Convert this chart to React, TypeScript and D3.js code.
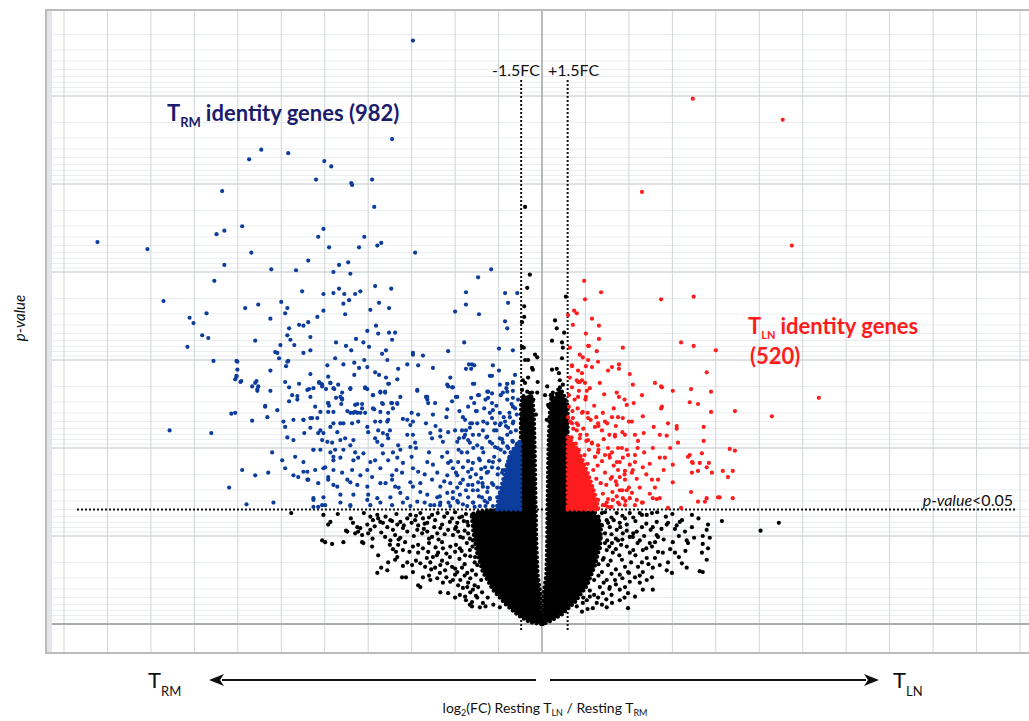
import React from "react";
import * as d3 from "d3";

// Each gene: [log2 fold change (T_LN / T_RM), -log10(p-value)]
type Pt = [number, number];

// Significant, higher in T_RM (blue)
const trmIdentityGenes: Pt[] = [
[-2.97,6.63],[-10.23,4.34],[-9.08,4.26],[-3.45,5.51],[-6.74,5.28],[-6.46,5.39],[-5.84,5.35],[-5.01,5.26],[-4.85,5.2],[-5.2,5.05],[-4.39,5.01],[-4.37,4.99],[-3.91,5.05],[-3.86,4.74],[-7.36,4.92],[-6.9,4.52],[-7.49,4.43],[-7.31,4.47],[-5.03,4.49],[-5.15,4.4],[-4.09,4.4],[-4.21,4.28],[-4.9,4.28],[-3.79,4.3],[-3.7,4.33],[-2.92,4.22],[-6.69,4.22],[-7.31,4.08],[-6.23,4.03],[-5.66,4.02],[-5.38,4.13],[-4.67,4.08],[-4.46,4.11],[-4.8,4.0],[-4.41,3.98],[-1.17,4.03],[-1.47,3.94],[-7.54,3.9],[-8.71,3.67],[-3.84,3.84],[-3.47,3.81],[-5.52,3.78],[-5.03,3.75],[-4.8,3.76],[-4.67,3.81],[-4.55,3.75],[-4.3,3.75],[-4.18,3.78],[-4.44,3.68],[-4.57,3.64],[-3.75,3.65],[-3.52,3.59],[-3.95,3.57],[-4.53,3.52],[-1.75,3.77],[-1.75,3.63],[-1.45,3.52],[-2.0,3.55],[-0.85,3.76],[-0.57,3.76],[-0.78,3.65],[-0.85,3.44],[-0.8,3.36],[-6.83,3.59],[-6.53,3.63],[-6.0,3.66],[-5.86,3.59],[-5.91,3.53],[-6.25,3.47],[-8.11,3.48],[-8.02,3.42],[-7.72,3.53],[-5.82,3.36],[-5.59,3.4],[-5.49,3.39],[-5.38,3.43],[-5.17,3.49],[-5.03,3.56],[-4.02,3.33],[-3.82,3.39],[-3.77,3.3],[-3.52,3.31],[-3.38,3.31],[-7.82,3.28],[-7.68,3.25],[-5.86,3.28],[-8.16,3.15],[-7.56,2.99],[-7.03,2.99],[-7.01,2.89],[-7.03,2.82],[-7.06,2.78],[-6.92,2.76],[-7.15,2.39],[-7.06,2.4],[-6.6,3.22],[-6.67,2.7],[-6.57,2.76],[-6.53,2.7],[-6.55,2.65],[-6.37,2.48],[-6.32,2.35],[-6.25,2.88],[-6.25,2.65],[-6.09,2.43],[-6.14,3.09],[-6.05,3.02],[-6.02,3.17],[-5.89,2.93],[-5.84,2.99],[-5.79,3.23],[-5.7,3.17],[-5.91,2.75],[-5.82,2.69],[-5.75,2.6],[-5.63,2.59],[-5.63,2.55],[-5.82,2.53],[-5.33,3.26],[-5.33,3.11],[-5.49,3.08],[-5.59,2.73],[-5.33,2.84],[-5.36,2.67],[-5.26,2.68],[-4.74,3.2],[-4.76,3.02],[-4.94,2.94],[-5.13,2.75],[-5.08,2.73],[-5.06,2.7],[-4.92,2.81],[-4.87,2.74],[-4.78,2.67],[-4.69,2.72],[-4.97,2.67],[-4.92,2.51],[-4.9,2.48],[-4.8,2.41],[-4.6,2.63],[-4.6,2.55],[-4.74,2.57],[-4.51,3.16],[-4.39,3.11],[-4.28,3.24],[-4.11,3.2],[-4.57,2.95],[-4.32,2.97],[-4.32,2.83],[-4.21,2.91],[-4.09,3.0],[-4.02,2.92],[-3.98,3.15],[-3.45,3.23],[-3.59,3.11],[-3.68,3.07],[-3.56,3.0],[-3.84,2.86],[-3.75,2.83],[-3.59,2.8],[-3.52,2.73],[-3.33,2.78],[-3.31,2.9],[-3.1,2.95],[-4.41,2.67],[-4.07,2.68],[-4.02,2.67],[-3.89,2.6],[-3.72,2.63],[-3.61,2.63],[-3.26,2.58],[-3.33,2.5],[-3.47,2.51],[-3.66,2.5],[-3.43,2.45],[-4.62,2.5],[-4.48,2.42],[-4.34,2.4],[-4.25,2.4],[-4.25,2.5],[-4.14,2.45],[-3.86,2.44],
[-1.79,3.2],[-2.16,3.1],[-2.74,3.05],[-2.97,3.08],[-2.97,3.06],[-2.85,2.94],[-2.51,2.91],[-1.68,2.95],[-1.61,2.95],[-1.56,2.94],[-1.63,2.9],[-1.75,2.9],[-1.13,2.94],[-0.99,3.13],[-0.67,3.11],[-0.99,2.88],[-1.2,2.82],[-1.15,2.82],[-2.11,2.8],[-2.16,2.7],[-2.05,2.69],[-1.56,2.73],[-0.8,2.73],[-0.67,2.75],[-0.62,2.83],[-2.87,2.65],[-1.24,2.64],[-0.8,2.64],[-0.67,2.65],[-1.45,2.6],[-1.63,2.57],[-2.64,2.58],[-1.98,2.58],
[-5.4,2.66],[-5.13,2.74],[-5.06,2.72],[-4.87,2.74],[-4.8,2.68],[-4.41,2.68],[-4.07,2.69],[-3.72,2.64],[-3.61,2.64],[-3.54,2.73],[-2.87,2.66],[-2.67,2.58],[-2.18,2.72],[-2.07,2.69],[-1.59,2.73],[-1.26,2.64],[-0.97,2.72],[-0.8,2.73],[-0.67,2.74],
[-5.33,2.58],[-4.92,2.51],[-4.64,2.58],[-4.6,2.56],[-4.3,2.49],[-4.14,2.5],[-3.89,2.6],[-3.68,2.51],[-3.45,2.51],[-3.33,2.51],[-3.89,2.45],[-3.72,2.41],[-3.54,2.4],[-2.64,2.55],[-2.62,2.51],[-2.46,2.51],[-2.18,2.44],[-2.07,2.53],[-1.95,2.58],[-1.47,2.6],[-1.24,2.57],[-1.15,2.51],[-0.9,2.63],[-0.8,2.55],[-0.67,2.57],[-1.7,2.47],[-1.56,2.51],[-1.13,2.43],[-0.97,2.4],[-0.67,2.47],[-4.41,2.4],[-4.92,2.41],[-5.22,2.47],[-5.1,2.41],[-4.3,2.41],[-4.18,2.4],[-4.07,2.4],
[-5.33,2.34],[-5.17,2.34],[-5.49,2.32],[-4.8,2.28],[-4.64,2.28],[-4.57,2.28],[-4.87,2.24],[-4.37,2.28],[-4.23,2.3],[-4.02,2.24],[-3.84,2.3],[-3.72,2.3],[-3.56,2.3],[-3.54,2.32],[-3.2,2.33],[-3.1,2.32],[-3.03,2.26],[-2.97,2.3],[-2.85,2.38],[-2.67,2.28],[-2.51,2.38],[-2.34,2.2],[-2.16,2.18],[-1.82,2.35],[-1.77,2.32],[-1.61,2.28],[-1.49,2.28],[-1.84,2.2],[-1.66,2.23],[-1.36,2.2],[-1.26,2.28],[-1.15,2.34],[-1.08,2.28],[-0.97,2.26],[-0.85,2.3],[-0.74,2.35],[-0.78,2.23],[-0.67,2.28],[-4.0,2.18],[-3.77,2.2],[-3.66,2.17],[-5.47,2.17],[-5.1,2.2],[-5.03,2.17],[-4.71,2.18],
[-4.94,2.07],[-4.83,2.06],[-4.64,2.09],[-4.53,2.11],[-4.34,2.09],[-4.41,2.03],[-4.76,1.98],[-4.87,1.95],[-5.26,1.98],[-3.84,2.11],[-3.79,2.07],[-3.56,2.15],[-3.54,2.11],[-3.68,2.03],[-3.43,1.95],[-3.31,2.03],[-3.26,1.98],[-3.03,2.01],[-2.97,2.15],[-2.92,2.06],[-2.57,2.17],[-2.53,2.11],[-2.34,2.13],[-2.28,2.07],[-1.95,2.07],[-1.91,2.11],[-1.77,2.15],[-1.7,2.09],[-1.66,2.06],[-1.59,2.15],[-1.49,2.03],[-1.38,2.0],[-1.26,2.13],[-1.2,2.07],[-1.08,2.01],[-0.97,2.11],[-0.9,2.06],[-0.8,2.15],[-0.78,2.0],[-0.67,2.07],[-0.69,1.95],[-1.72,1.95],[-2.18,1.95],[-3.66,1.94],[-4.11,1.94],[-4.3,1.95],[-4.57,1.98],
[-4.8,1.9],[-4.64,1.89],[-4.34,1.86],[-4.23,1.89],[-3.95,1.84],[-3.84,1.86],[-3.54,1.86],[-3.33,1.89],[-3.2,1.83],[-3.72,1.77],[-4.02,1.75],[-4.37,1.75],[-4.8,1.75],[-5.03,1.77],[-5.22,1.75],[-5.4,1.73],[-5.49,1.84],[-4.6,1.72],[-4.18,1.69],[-3.91,1.67],[-3.45,1.69],[-3.22,1.72],[-2.97,1.77],[-2.85,1.73],[-2.64,1.84],[-2.51,1.81],[-2.41,1.72],[-2.16,1.83],[-2.05,1.77],[-1.93,1.84],[-1.82,1.78],[-1.7,1.73],[-1.59,1.83],[-1.43,1.86],[-1.31,1.78],[-1.24,1.73],[-1.13,1.84],[-1.01,1.77],[-0.92,1.72],[-0.8,1.81],[-0.74,1.89],[-0.67,1.75],[-0.78,1.69],[-2.18,1.69],[-1.95,1.69],
[-5.38,1.64],[-5.15,1.6],[-4.92,1.64],[-4.8,1.58],[-4.41,1.61],[-4.25,1.58],[-4.02,1.56],[-3.72,1.6],[-3.45,1.64],[-3.38,1.56],[-3.03,1.61],[-2.97,1.56],[-2.8,1.6],[-2.53,1.64],[-2.34,1.56],[-2.11,1.6],[-1.95,1.55],[-1.82,1.64],[-1.7,1.58],[-1.59,1.52],[-1.47,1.61],[-1.36,1.56],[-1.26,1.5],[-1.15,1.6],[-1.03,1.55],[-0.97,1.49],[-0.85,1.6],[-0.78,1.55],[-0.67,1.49],[-0.69,1.64],[-5.26,1.43],[-5.03,1.44],[-4.64,1.47],[-4.34,1.47],[-4.0,1.47],[-3.79,1.43],[-3.49,1.44],[-3.26,1.49],[-3.1,1.43],[-2.64,1.47],[-2.41,1.44],[-2.18,1.49],[-2.05,1.43],[-1.89,1.47],[-1.38,1.44],[-1.2,1.43],[-1.03,1.44],[-0.85,1.43],[-0.74,1.47],
[-5.26,1.33],[-4.99,1.35],[-4.64,1.38],[-4.41,1.34],[-3.95,1.35],[-3.72,1.38],[-3.45,1.35],[-3.2,1.38],[-3.03,1.34],[-2.87,1.39],[-2.57,1.35],[-2.34,1.38],[-2.11,1.34],[-1.93,1.38],[-1.72,1.34],[-1.59,1.38],[-1.43,1.34],[-1.26,1.38],[-1.13,1.34],[-0.97,1.38],[-0.8,1.34],[-0.67,1.38],[-0.55,1.34],
[-7.01,2.98],[-7.03,2.81],[-6.94,2.75],[-6.6,2.74],[-6.55,2.67],[-6.09,3.08],[-5.86,2.98],[-6.37,2.47],[-6.67,2.31],[-6.21,1.95],[-5.98,1.86],[-5.91,1.77],[-6.9,1.75],[-6.6,1.69],[-6.3,1.72],[-7.2,1.55],[-6.8,1.36],[-6.18,1.38],[-8.57,2.2],[-7.61,2.17],[-5.95,2.3],[-5.86,2.12],[-5.72,2.09],[-5.68,1.9],[-5.72,1.69],[-5.61,1.67],[-5.49,1.73],[-5.4,1.64],[-5.26,1.41],[-5.15,1.33],[-5.06,1.35],[-5.72,2.32],[-5.91,2.24],[-5.49,2.32],[-5.29,2.34],[-5.33,2.23],[-5.15,2.17],[-5.06,2.09],[-5.26,1.98],[-5.1,1.98],[-4.99,1.78],[-4.8,1.86],[-4.92,1.67],[-4.71,1.56],[-4.48,1.64],[-4.41,1.35],[-4.02,1.41],
[-0.55,2.55],[-0.62,2.45],[-0.58,2.38],[-0.7,2.5],[-0.66,2.3],[-0.75,2.4],[-0.88,2.35],[-0.6,2.2],[-0.72,2.18],[-0.83,2.25],[-0.95,2.28],[-1.05,2.2],[-0.57,2.05],[-0.68,2.08],[-0.8,2.02],[-0.92,2.1],[-1.02,2.0],[-1.15,2.05],[-1.28,2.12],[-0.62,1.92],[-0.75,1.88],[-0.86,1.95],[-0.98,1.86],[-1.1,1.9],[-1.22,1.85],[-1.35,1.95],[-1.45,1.88],[-0.9,1.75],[-1.02,1.7],[-1.15,1.78],[-1.27,1.72],[-1.4,1.76],[-1.52,1.7],[-1.12,1.58],[-1.25,1.55],[-1.37,1.6],[-1.48,1.52],[-1.6,1.58],[-1.2,1.42],[-1.32,1.4],[-1.45,1.45],[-1.58,1.38],[-1.7,1.44],[-1.3,1.34],[-1.55,1.33],[-1.82,1.36],[-1.95,1.4],[-1.75,1.52],[-1.88,1.6],[-1.65,1.67],[-2.05,1.5],[-2.15,1.38],[-1.98,1.72],[-1.7,1.85],[-1.58,2.0],[-1.45,2.15],[-1.35,2.3],[-1.2,2.4],[-1.05,2.48],[-0.95,2.6],[-0.82,2.68],[-1.15,2.62],[-1.3,2.55],[-1.5,2.42],[-1.65,2.28],[-1.8,2.12],[-1.92,1.98],[-2.1,1.85],[-2.25,1.62],[-2.35,1.45],[-2.48,1.35],
[-2.8,1.5],[-2.7,1.7],[-2.6,1.95],[-2.45,2.25],[-2.3,1.9],[-2.2,2.35],[-2.0,2.2],[-1.9,2.42],[-1.85,1.95],[-1.75,2.2],[-1.62,1.76],[-1.52,2.42],[-1.4,1.66],[-1.33,2.45],[-1.1,2.2],[-0.95,1.98],[-0.9,1.55],[-0.62,1.6],[-0.58,1.8],[-0.6,2.0],[-3.0,1.9],[-3.1,2.15],[-3.35,1.75],[-3.5,2.2],[-3.6,1.6],[-3.0,2.4],[-2.9,2.0],[-2.35,1.35],[-2.7,1.38],[-3.3,1.55]
];

// Significant, higher in T_LN (red)
const tlnIdentityGenes: Pt[] = [
[3.47,5.97],[5.54,5.73],[2.3,4.91],[5.75,4.3],[0.97,3.9],[1.36,3.77],[0.99,3.69],[2.74,3.69],[3.49,3.72],[0.74,3.56],[0.8,3.53],[0.6,3.51],[1.15,3.47],[0.71,3.4],[1.31,3.39],[1.01,3.3],[1.31,3.24],[0.64,3.14],[1.06,3.16],[1.26,3.1],[1.86,3.14],[3.2,3.2],[3.49,3.16],[4.0,3.11],[0.94,3.03],[1.06,3.0],[0.69,2.93],[1.01,2.93],[1.52,2.88],[1.61,2.92],[1.77,2.95],[1.77,2.9],[2.02,2.84],[0.64,2.8],[0.83,2.75],[0.92,2.77],[1.33,2.74],[2.09,2.72],[2.6,2.74],[2.76,2.69],[2.74,2.7],[3.01,2.65],[3.43,2.67],[3.79,2.86],[3.89,2.64],[0.83,2.58],[1.01,2.58],[1.43,2.61],[1.72,2.63],[1.77,2.58],[1.95,2.49],[2.11,2.51],[2.32,2.36],[2.74,2.45],[2.76,2.47],[3.4,2.52],[3.59,2.5],[3.89,2.41],[4.44,2.42],[5.29,2.36],[6.37,2.57],[0.62,2.47],[0.6,2.35],[0.71,2.34],[0.94,2.41],[1.06,2.34],[1.29,2.28],[1.45,2.3],[1.61,2.35],[1.75,2.35],[1.86,2.34],[2.07,2.3],[2.57,2.24],[2.9,2.28],[3.1,2.25],[3.1,2.22],[3.72,2.24],[3.72,2.08],[1.68,2.15],[1.68,2.13],[1.91,2.15],[2.14,2.15],[2.34,2.17],[2.21,2.08],[2.71,2.15],[2.87,2.14],[3.13,2.06],[4.32,1.99],[4.44,1.97],[3.68,1.94],[3.4,1.92],[3.36,1.9],[3.45,1.84],[3.47,1.83],[3.63,1.83],[3.84,1.83],[3.79,1.78],[3.59,1.74],[3.91,1.72],[4.16,1.74],[4.39,1.74],[4.28,1.67],[2.71,1.89],[2.83,1.89],[2.48,1.82],[3.01,1.81],[3.45,1.72],[3.43,1.5],[3.79,1.43],[3.75,1.39],[4.05,1.44],[4.09,1.44],[4.39,1.43],[3.59,1.39],[3.2,1.32],[2.55,1.43],[2.64,1.42],[2.71,1.43],[2.48,1.48],[2.3,1.38],[2.9,1.32],[3.01,1.61],[2.53,1.64],[2.67,1.64],[2.18,1.65],[2.07,1.72],[2.09,1.75],[2.32,1.78],[2.02,1.81],[2.14,1.84],[1.98,1.92],[2.14,1.92],[1.95,1.98],[1.84,2.0],[1.52,2.0],[1.61,1.95],[1.45,1.92],[1.56,1.89],[1.72,1.84],[1.79,1.84],[1.86,1.89],[1.75,1.75],[1.91,1.74],[1.61,1.67],[1.79,1.67],[1.91,1.64],[1.72,1.58],[1.79,1.52],[1.95,1.52],[2.07,1.49],[1.86,1.43],[2.02,1.43],[2.18,1.41],[1.63,1.41],[1.75,1.38],[1.91,1.35],[2.14,1.35],[1.49,1.38],[1.52,1.33],[1.29,1.41],[1.4,1.35],[2.32,1.38],[1.06,2.09],[1.03,2.15],[1.15,2.06],[1.29,2.03],[0.8,2.2],[0.69,2.28],[0.83,2.26],[1.22,2.24],[1.38,2.2],[0.87,2.11],[1.29,1.95],[1.22,1.9],
[1.08,3.16],[0.87,3.06],[0.69,2.94],[0.83,2.88],[0.92,2.85],[0.8,2.77],[0.87,2.75],[0.99,2.74],[0.69,2.69],[1.03,2.65],[1.15,2.92],[1.29,2.98],
[0.65,2.3],[0.72,2.22],[0.8,2.28],[0.68,2.12],[0.78,2.05],[0.88,2.15],[0.95,2.22],[1.02,2.08],[0.85,1.98],[0.98,1.92],[1.08,1.98],[1.15,2.05],[1.22,1.9],[1.3,1.98],[1.05,1.82],[1.18,1.75],[1.28,1.8],[1.38,1.85],[1.45,1.72],[1.25,1.65],[1.35,1.6],[1.48,1.58],[1.58,1.65],[1.4,1.48],[1.52,1.42],[1.62,1.5],[1.72,1.45],[1.45,1.35],[1.6,1.33],[1.78,1.36],[1.85,1.52],[1.7,1.62],[1.9,1.7],[1.65,1.8],[1.55,1.92],[1.75,2.0],[1.42,2.1],[1.3,2.25],[1.12,2.32],[0.92,2.4],[0.7,2.42],[1.0,2.55],[1.2,2.48],[1.5,2.28],[1.92,1.4],[2.0,1.55],[0.75,2.55],[0.62,2.6],[0.85,2.65],[1.1,2.68],
[0.65,1.45],[0.7,1.6],[0.75,1.78],[0.68,1.95],[0.9,1.5],[0.95,1.65],[1.1,1.4],[1.15,1.55],[0.82,2.45],[1.05,2.4],[1.25,2.35],[1.4,2.4],[1.55,2.15],[1.7,2.25],[1.85,2.18],[2.0,2.3],[2.2,2.0],[2.25,1.55],[2.4,1.7],[2.35,1.95],[2.55,2.0],[2.6,1.55],[2.8,1.75],[2.95,2.0],[1.65,2.45],[1.9,2.55],[2.3,2.6],[0.62,1.9],[0.62,1.7],[0.64,1.5]
];

// Not significant or below the fold-change cut-off (black)
const otherGenes: Pt[] = [
[-5.77,1.26],[-5.03,1.24],[-4.87,1.16],[-4.92,1.13],[-5.06,0.95],[-4.99,0.93],[-4.83,0.91],[-4.57,0.93],[-4.51,1.06],[-4.25,1.1],[-4.18,1.09],[-4.3,1.03],[-4.14,1.01],[-4.23,1.05],[-4.14,0.93],[-4.11,0.92],[-3.95,1.22],[-3.89,1.18],[-3.79,1.24],[-3.77,1.2],[-3.72,1.16],[-4.02,1.13],[-3.95,1.07],[-4.0,1.03],[-3.91,0.88],[-3.77,0.78],[-3.79,0.58],[-3.7,0.64],[-3.56,0.61],[-3.54,0.7],[-3.38,0.73],[-3.33,0.76],[-3.43,0.85],[-3.36,0.82],[-3.66,1.15],[-3.56,1.1],[-3.49,1.18],[-3.43,1.07],[-3.33,1.13],[-3.26,1.16],[-3.2,1.09],[-3.61,0.99],[-3.49,0.95],[-3.38,1.01],[-3.26,0.98],[-3.15,0.93],[-3.31,0.9],[-3.2,0.84],[-3.1,0.7],[-2.99,0.67],[-2.97,0.59],[-3.22,0.53],[-3.13,0.53],[-3.03,1.24],[-2.92,1.18],[-2.8,1.26],[-2.74,1.2],[-2.64,1.15],[-2.53,1.24],[-2.46,1.18],[-2.87,1.07],[-2.76,1.03],[-2.64,1.05],[-2.53,0.99],[-2.41,1.03],[-2.34,1.09],[-2.97,0.88],[-2.85,0.81],[-2.74,0.86],[-2.62,0.82],[-2.51,0.76],[-2.39,0.81],[-2.28,0.86],[-2.8,0.69],[-2.69,0.65],[-2.57,0.7],[-2.46,0.64],[-2.34,0.67],[-2.23,0.61],[-2.74,0.53],[-2.57,0.5],[-2.41,0.52],[-2.28,0.47],[-2.11,0.48],[-2.85,0.44],[-2.18,1.26],[-2.07,1.2],[-1.95,1.15],[-1.84,1.22],[-1.72,1.16],[-1.61,1.24],[-1.49,1.18],[-2.16,1.07],[-2.05,1.01],[-1.93,1.05],[-1.82,0.98],[-1.7,1.03],[-1.59,0.95],[-1.47,1.01],[-2.11,0.88],[-2.0,0.82],[-1.89,0.86],[-1.77,0.78],[-1.66,0.84],[-1.54,0.76],[-1.43,0.81],[-2.18,0.69],[-2.07,0.65],[-1.95,0.59],[-1.84,0.64],[-1.72,0.58],[-1.61,0.61],[-1.49,0.67],[-2.05,0.5],[-1.93,0.44],[-1.82,0.41],[-1.7,0.47],[-1.59,0.39],[-1.47,0.42],[-1.89,0.33],[-1.77,0.31],[-1.61,0.25],[-1.49,0.3],[-1.36,0.24],[-1.61,0.2],[-1.36,1.18],[-1.26,1.07],[-1.2,0.92],[-1.13,0.73],[-1.08,0.53],[-1.03,0.35],[-0.97,0.19],
[-4.48,1.05],[-2.8,0.42],[-2.34,0.36],[-2.16,0.35],[-1.66,0.22],[-1.43,0.19],
[-1.45,1.27],[-1.55,1.22],[-1.75,1.25],[-1.9,1.21],[-2.0,1.27],[-2.25,1.22],[-2.4,1.26],[-2.6,1.21],[-2.9,1.23],[-3.1,1.2],[-3.35,1.25],[-3.6,1.22],[-4.1,1.26],[-4.4,1.2],[-4.7,1.25],
[-1.7,1.12],[-1.8,1.17],[-1.98,1.1],[-2.12,1.16],[-2.3,1.13],[-2.48,1.1],[-2.7,1.14],[-2.85,1.12],[-3.0,1.15],[-3.18,1.12],[-3.45,1.17],[-3.85,1.11],[-4.35,1.15],
[-1.66,0.97],[-1.78,1.06],[-1.88,0.99],[-2.0,1.08],[-2.24,1.02],[-2.38,0.96],[-2.6,0.97],[-2.72,1.08],[-2.95,1.0],[-3.1,1.05],[-3.3,0.96],[-3.7,1.04],[-3.9,0.97],
[-1.6,0.88],[-1.73,0.92],[-1.85,0.83],[-1.98,0.9],[-2.2,0.8],[-2.3,0.93],[-2.45,0.87],[-2.6,0.92],[-2.85,0.9],[-3.05,0.82],[-3.5,0.9],
[-1.55,0.7],[-1.65,0.77],[-1.78,0.68],[-1.9,0.74],[-2.0,0.63],[-2.12,0.76],[-2.3,0.72],[-2.42,0.78],[-2.55,0.62],[-2.65,0.75],[-2.9,0.72],[-3.2,0.66],
[-1.4,0.5],[-1.52,0.56],[-1.65,0.52],[-1.78,0.55],[-1.88,0.5],[-2.0,0.56],[-2.2,0.53],[-2.35,0.58],[-2.6,0.55],[-1.55,0.44],[-1.72,0.42],
[-1.25,0.3],[-1.38,0.36],[-1.52,0.32],[-1.65,0.36],[-1.75,0.27],[-1.3,0.2],[-1.12,0.22],[-2.0,0.3],
[4.14,1.17],[5.03,1.06],[5.45,1.15],[3.82,1.13],[3.79,1.07],[3.7,1.0],[3.86,0.98],[3.7,0.91],[3.82,0.86],[3.68,0.81],[3.79,0.73],[3.63,0.6],[3.7,0.59],[3.33,0.95],[3.36,0.92],[3.29,1.05],[3.22,1.18],[3.17,1.16],[3.06,1.08],[3.01,0.93],[2.87,1.13],[2.9,1.15],[3.22,0.69],[3.06,0.81],[2.99,0.58],[2.87,0.61],[3.33,0.64],[2.64,1.16],[2.64,1.01],[2.67,0.99],[2.48,0.92],[2.53,0.88],[2.67,0.82],[2.78,0.81],[2.71,0.67],[2.55,0.64],[2.53,0.53],[2.41,0.5],[2.55,0.39],[2.32,0.39],[2.25,0.47],[1.98,0.18],[2.25,1.26],[2.41,1.24],[2.53,1.26],[2.3,1.1],[2.18,1.05],[2.09,0.99],[2.25,0.95],[2.32,0.84],[2.41,0.75],[2.3,0.7],[2.21,0.65],[2.32,0.59],[2.14,0.53],[2.02,0.48],[1.91,0.42],[1.79,0.39],[1.98,0.35],[2.14,0.31],[1.79,0.27],[1.61,0.24],[1.49,0.19],[1.38,0.22],[1.26,0.24],[1.17,0.18],[1.95,0.88],[2.02,0.81],[1.84,0.73],[1.91,0.65],[1.98,0.59],[1.79,0.56],[1.68,0.5],[1.56,0.42],[2.02,1.26],[1.91,1.2],[1.79,1.15],[1.72,1.07],[1.86,1.03],[2.02,0.99],[1.75,0.95],[1.49,1.18],[1.56,1.1],[1.45,1.03],[1.61,0.92],[1.49,0.84],[1.63,0.81],[1.4,0.73],[1.52,0.67],[1.38,0.59],[1.49,0.5],[1.33,0.42],[1.4,0.35],[1.29,0.3],[1.1,0.31],[1.03,0.27],[0.94,0.24],[0.92,0.14],[1.17,1.26],[1.29,1.2],[1.38,1.26],
[1.3,1.22],[1.45,1.27],[1.6,1.21],[1.72,1.26],[1.85,1.23],[2.1,1.21],[2.3,1.24],[2.65,1.27],[2.85,1.22],[3.0,1.25],[3.45,1.24],[3.6,1.2],
[1.38,1.12],[1.52,1.15],[1.65,1.18],[1.8,1.1],[1.95,1.13],[2.15,1.17],[2.4,1.14],[2.55,1.1],[2.75,1.08],[3.1,1.12],[3.45,1.1],
[1.35,0.98],[1.5,0.95],[1.6,1.02],[1.7,0.97],[1.85,0.96],[1.95,1.06],[2.1,1.03],[2.35,1.0],[2.5,1.07],[2.8,0.96],[3.15,1.0],[3.5,0.98],
[1.33,0.86],[1.45,0.92],[1.55,0.88],[1.7,0.85],[1.82,0.9],[2.1,0.84],[2.2,0.92],[2.4,0.86],[2.6,0.93],[2.95,0.85],[3.3,0.83],
[1.3,0.68],[1.42,0.75],[1.58,0.72],[1.7,0.62],[1.78,0.78],[2.05,0.7],[2.15,0.78],[2.45,0.68],[2.6,0.75],[2.9,0.7],[3.15,0.76],
[1.2,0.5],[1.3,0.55],[1.42,0.47],[1.6,0.57],[1.85,0.52],[2.0,0.58],[2.25,0.55],[1.55,0.4],[1.7,0.45],
[1.1,0.38],[1.2,0.33],[1.48,0.28],[1.6,0.33],[1.9,0.3],[0.95,0.3],[0.8,0.2],[1.05,0.17],
[-0.39,4.74],[-0.28,3.97],[-0.34,3.82],[-0.41,3.61],[-0.41,3.49],[-0.46,3.43],[0.55,3.72],[0.3,3.45],[0.34,3.36],[0.51,3.31],[0.23,3.22],[0.46,3.2],[0.48,3.14],[0.46,3.02],[0.23,2.89],[0.34,2.9],[0.39,2.85],[0.41,2.77],[0.48,2.72],[0.25,2.63],[-0.46,3.15],[-0.42,3.14],[-0.39,3.0],[-0.32,3.0],[-0.16,3.06],[-0.11,3.03],[-0.23,2.91],[-0.21,2.89],[-0.44,2.77],[-0.39,2.74],[-0.32,2.8],[-0.46,2.66],[-0.34,2.64],[-0.23,2.63],[-0.11,2.63],[0.44,2.52],[0.16,2.47],[0.07,2.6],[0.14,2.49],[-0.28,2.49],[-0.14,2.38],[0.11,2.32],
[-0.45,2.4],[-0.4,2.3],[-0.3,2.2],[-0.2,2.55],[-0.44,2.55],[0.5,2.45],[0.3,2.55],[0.55,2.35],[0.2,2.6],[-0.1,2.75],[0.12,2.7]
];

// Outlines of the areas where dots of one group overlap completely
const otherGenesLeftArm: Pt[] = [
[-0.02,0.0],[-0.28,0.02],[-0.55,0.1],[-0.85,0.23],[-1.13,0.39],[-1.36,0.59],[-1.5,0.82],[-1.58,1.05],[-1.62,1.25],[-1.3,1.29],[-0.5,1.3],[-0.48,2.5],[-0.42,2.6],[-0.34,2.55],[-0.28,2.63],[-0.22,2.55],[-0.19,2.4],[-0.17,2.0],[-0.15,1.4],[-0.13,0.9],[-0.1,0.55],[-0.04,0.35]
];
const otherGenesRightArm: Pt[] = [
[0.02,0.0],[0.04,0.35],[0.1,0.55],[0.12,0.9],[0.13,1.4],[0.15,2.0],[0.18,2.4],[0.22,2.6],[0.3,2.56],[0.4,2.7],[0.5,2.6],[0.59,2.48],[0.59,1.3],[1.2,1.28],[1.36,1.13],[1.34,0.9],[1.22,0.67],[1.04,0.44],[0.76,0.25],[0.46,0.11],[0.18,0.03]
];
const trmDenseCore: Pt[] = [[-0.5,1.3],[-1.05,1.3],[-0.95,1.53],[-0.84,1.75],[-0.72,1.95],[-0.5,2.08]];
const tlnDenseCore: Pt[] = [[0.59,1.3],[1.3,1.3],[1.22,1.47],[1.07,1.69],[0.9,1.9],[0.72,2.06],[0.59,2.12]];

const fcThresholds = [-0.48, 0.59]; // -1.5FC / +1.5FC
const pCutoff = 0.05;

const NAVY = "#1b1b6e";
const BLUE = "#0c3c9c";
const RED = "#ff1c1c";
const FONT = "Lato, 'Open Sans', sans-serif";

export default function App() {
  const W = 1029, H = 721;
  const x = d3.scaleLinear().domain([-11, 11]).range([64, 1020]);
  const y = d3.scaleLinear().domain([0, 7]).range([624, 8]);
  const pScale = d3.scaleLog().domain([1, 1e-7]).range([624, 8]);
  const pTicks = pScale.ticks();
  const isMajor = (t: number) => Math.abs(Math.log10(t) - Math.round(Math.log10(t))) < 1e-9;
  const xTicks = x.ticks(22);
  const area = d3.line<Pt>().x(d => x(d[0])).y(d => y(d[1])).curve(d3.curveLinearClosed);
  const yCut = y(-Math.log10(pCutoff));
  const left = 52, top = 11, bottom = 652;
  const r = 2.1;

  const blob = (pts: Pt[], color: string, key: string) => (
    <path key={key} d={area(pts) || ""} fill={color} stroke={color} strokeWidth={4.3}
      strokeDasharray="0,4.6" strokeLinecap="round" strokeLinejoin="round" />
  );

  return (
    <svg width={W} height={H} style={{ position: "absolute", left: 0, top: 0, background: "#fff" }} fontFamily={FONT}>
      {/* frame */}
      <rect x={46} y={10} width={W} height={643} fill="#fff" stroke="#b9bbbe" strokeWidth={2} />
      <rect x={47} y={11} width={5} height={641} fill="#e3e5e9" />
      {/* minor / major horizontal grid */}
      {pTicks.filter(t => !isMajor(t)).map((t, i) => (
        <line key={"m" + i} x1={left} x2={W} y1={pScale(t)} y2={pScale(t)} stroke="#ebeef0" strokeWidth={1} />
      ))}
      {pTicks.filter(t => isMajor(t) && t < 1 && t > 1e-7).map((t, i) => (
        <line key={"M" + i} x1={left} x2={W} y1={pScale(t)} y2={pScale(t)} stroke="#d4d9dc" strokeWidth={1.5} />
      ))}
      {/* vertical grid */}
      {xTicks.filter(t => t !== 0).map((t, i) => (
        <line key={"v" + i} x1={x(t)} x2={x(t)} y1={top} y2={bottom} stroke="#cfd5d8" strokeWidth={1} />
      ))}
      <line x1={x(0)} x2={x(0)} y1={top} y2={bottom} stroke="#a3a5a8" strokeWidth={1.5} />
      <line x1={left} x2={W} y1={y(0)} y2={y(0)} stroke="#a9abae" strokeWidth={2} />
      {/* thresholds */}
      {fcThresholds.map((f, i) => (
        <line key={"fc" + i} x1={x(f)} x2={x(f)} y1={80} y2={630} stroke="#111" strokeWidth={2} strokeDasharray="2,2" />
      ))}
      <line x1={77} x2={1015} y1={yCut} y2={yCut} stroke="#111" strokeWidth={2} strokeDasharray="2,2" />

      {/* points */}
      {blob(otherGenesLeftArm, "#000", "cl")}
      {blob(otherGenesRightArm, "#000", "cr")}
      {otherGenes.map((d, i) => <circle key={"o" + i} cx={x(d[0])} cy={y(d[1])} r={r} fill="#000" />)}
      {blob(trmDenseCore, BLUE, "cb")}
      {trmIdentityGenes.map((d, i) => <circle key={"b" + i} cx={x(d[0])} cy={y(d[1])} r={r} fill={BLUE} />)}
      {blob(tlnDenseCore, RED, "cr2")}
      {tlnIdentityGenes.map((d, i) => <circle key={"r" + i} cx={x(d[0])} cy={y(d[1])} r={r} fill={RED} />)}

      {/* annotations */}
      <text x={540} y={76} fontSize={16} textAnchor="end" fill="#111">-1.5FC</text>
      <text x={548} y={76} fontSize={16} fill="#111">+1.5FC</text>
      <text x={167} y={121} fontSize={22} fontWeight={700} fill={NAVY}>
        <tspan>T</tspan><tspan fontSize={13} dy={6}>RM</tspan><tspan dy={-6} dx={5}>identity genes (982)</tspan>
      </text>
      <text x={748} y={334} fontSize={22} fontWeight={700} fill={RED}>
        <tspan>T</tspan><tspan fontSize={11} dy={5}>LN</tspan><tspan dy={-5} dx={5}>identity genes</tspan>
      </text>
      <text x={750} y={364} fontSize={22} fontWeight={700} fill={RED}>(520)</text>
      <text x={1013} y={506} fontSize={16} textAnchor="end" fill="#111">
        <tspan fontStyle="italic">p-value</tspan><tspan>&lt;0.05</tspan>
      </text>
      <text transform="translate(25,318) rotate(-90)" fontSize={15} fontStyle="italic" textAnchor="middle" fill="#111">p-value</text>

      {/* bottom direction arrows */}
      <text x={148} y={688} fontSize={22} fill="#111">
        <tspan>T</tspan><tspan fontSize={13} dy={8}>RM</tspan>
      </text>
      <text x={893} y={688} fontSize={22} fill="#111">
        <tspan>T</tspan><tspan fontSize={13} dy={8}>LN</tspan>
      </text>
      <line x1={222} x2={536} y1={680} y2={680} stroke="#111" strokeWidth={2} />
      <path d="M209,680 L224,674 L220,680 L224,686 Z" fill="#111" />
      <line x1={550} x2={866} y1={680} y2={680} stroke="#111" strokeWidth={2} />
      <path d="M879,680 L864,674 L868,680 L864,686 Z" fill="#111" />
      <text x={545} y={713} fontSize={14} textAnchor="middle" fill="#111">
        <tspan>log</tspan><tspan fontSize={9} dy={3}>2</tspan><tspan dy={-3}>(FC) Resting T</tspan><tspan fontSize={9} dy={3}>LN</tspan><tspan dy={-3}> / Resting T</tspan><tspan fontSize={9} dy={3}>RM</tspan>
      </text>
    </svg>
  );
}
